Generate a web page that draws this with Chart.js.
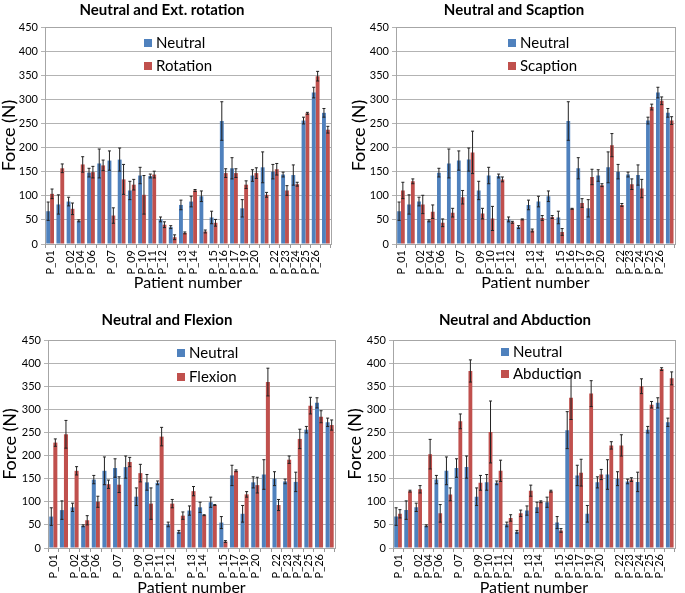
<!DOCTYPE html>
<html>
<head>
<meta charset="utf-8">
<script src="https://cdn.jsdelivr.net/npm/chart.js@4.4.0/dist/chart.umd.min.js"></script>
<style>
  body { margin: 0; width: 685px; height: 593px; overflow: hidden; background: #fff; position: relative; }
  canvas { position: absolute; }
</style>
</head>
<body>
<canvas id="tl" width="345" height="297" style="left:0;top:0"></canvas>
<canvas id="tr" width="340" height="297" style="left:345px;top:0"></canvas>
<canvas id="bl" width="345" height="305" style="left:0;top:297px"></canvas>
<canvas id="br" width="340" height="305" style="left:345px;top:297px"></canvas>
<script>
'use strict';

// patient slots (some slots have no label in the original figure)
let patients = ['P_01', '', 'P_02', 'P_04', 'P_06', '', 'P_07', '', 'P_09', 'P_10', 'P_11', 'P_12', '',
  'P_13', 'P_14', '', 'P_15', 'P_16', 'P_17', 'P_19', 'P_20', '', 'P_22', 'P_23', 'P_24', 'P_25', 'P_26', ''];
// flexion panel has no P_16
let patientsFlex = ['P_01', '', 'P_02', 'P_04', 'P_06', '', 'P_07', '', 'P_09', 'P_10', 'P_11', 'P_12', '',
  'P_13', 'P_14', '', 'P_15', 'P_17', 'P_19', 'P_20', '', 'P_22', 'P_23', 'P_24', 'P_25', 'P_26', ''];

let yTicks = [0, 50, 100, 150, 200, 250, 300, 350, 400, 450];

let neutral = [68, 82, 88, 48, 148, 167, 173, 175, 111, 142, 141, 51, 35, 81, 88, 99, 55, 255, 157, 74, 142, 159, 150, 144, 143, 256, 314, 272];
let neutralErr = [19, 20, 9, 2, 9, 30, 20, 24, 19, 17, 4, 5, 3, 10, 11, 11, 13, 40, 22, 18, 12, 32, 15, 5, 21, 7, 11, 9];

let neutralFlex = [68, 82, 88, 48, 148, 167, 173, 175, 111, 142, 141, 51, 35, 81, 88, 99, 55, 157, 74, 142, 159, 150, 144, 143, 256, 314, 272];
let neutralFlexErr = [19, 20, 9, 2, 9, 30, 20, 24, 19, 17, 4, 5, 3, 10, 11, 11, 13, 22, 18, 12, 32, 15, 5, 21, 7, 11, 9];

let rotation = [104, 157, 73, 165, 149, 163, 59, 134, 123, 102, 144, 40, 14, 23, 111, 26, 44, 147, 147, 123, 147, 102, 155, 111, 124, 271, 348, 237];
let rotationErr = [10, 9, 12, 16, 12, 11, 16, 31, 11, 40, 7, 6, 5, 2, 2, 3, 7, 9, 9, 8, 11, 5, 12, 10, 4, 2, 10, 7];

let scaption = [111, 130, 82, 67, 44, 65, 97, 190, 63, 53, 134, 45, 51, 28, 54, 56, 25, 73, 85, 139, 122, 205, 81, 124, 115, 284, 297, 256];
let scaptionErr = [17, 5, 19, 14, 8, 9, 14, 44, 11, 25, 5, 2, 1, 3, 5, 3, 7, 1, 9, 16, 3, 24, 3, 11, 19, 6, 8, 8];

let flexion = [228, 246, 167, 60, 100, 138, 137, 186, 162, 96, 241, 96, 70, 123, 71, 93, 14, 167, 116, 136, 359, 93, 191, 236, 308, 284, 266];
let flexionErr = [8, 30, 9, 10, 12, 9, 17, 10, 19, 34, 20, 9, 8, 10, 1, 1, 2, 2, 6, 17, 30, 12, 8, 21, 18, 13, 11];

let abduction = [74, 123, 127, 203, 75, 116, 274, 383, 141, 251, 167, 65, 75, 124, 100, 123, 38, 325, 163, 334, 159, 222, 222, 148, 350, 310, 387, 367];
let abductionErr = [9, 2, 8, 32, 19, 14, 16, 24, 16, 67, 23, 7, 7, 12, 2, 2, 4, 47, 29, 28, 11, 8, 23, 4, 16, 7, 3, 14];

const BLUE = '#4F81BD';
const RED = '#C0504D';
const FONT = 'Lato, "Open Sans", sans-serif';

// draws +/- error whiskers using the y scale
const errorBars = {
  id: 'errorBars',
  afterDatasetsDraw(chart) {
    const ctx = chart.ctx;
    const y = chart.scales.y;
    chart.data.datasets.forEach((ds, i) => {
      const meta = chart.getDatasetMeta(i);
      meta.data.forEach((bar, j) => {
        const v = ds.data[j];
        const e = ds.errors[j];
        const top = y.getPixelForValue(v + e);
        const bot = y.getPixelForValue(Math.max(0, v - e));
        ctx.save();
        ctx.strokeStyle = '#222';
        ctx.lineWidth = 1;
        ctx.beginPath();
        ctx.moveTo(bar.x, top);
        ctx.lineTo(bar.x, bot);
        ctx.moveTo(bar.x - 1.5, top);
        ctx.lineTo(bar.x + 1.5, top);
        ctx.moveTo(bar.x - 1.5, bot);
        ctx.lineTo(bar.x + 1.5, bot);
        ctx.stroke();
        ctx.restore();
      });
    });
  }
};

// title, in-plot legend and plot frame
const panelDecor = {
  id: 'panelDecor',
  afterDraw(chart, args, opts) {
    const ctx = chart.ctx;
    const a = chart.chartArea;
    ctx.save();
    ctx.strokeStyle = '#a6a6a6';
    ctx.lineWidth = 1;
    ctx.strokeRect(Math.round(a.left) + 0.5, Math.round(a.top) + 0.5, Math.round(a.right - a.left), Math.round(a.bottom - a.top));

    ctx.fillStyle = '#000';
    ctx.font = 'bold 15px ' + FONT;
    ctx.textAlign = 'center';
    ctx.textBaseline = 'middle';
    ctx.fillText(opts.title, opts.titleX, opts.titleY);

    ctx.font = '15px ' + FONT;
    ctx.textAlign = 'left';
    chart.data.datasets.forEach((ds, i) => {
      const ly = opts.legendY[i];
      ctx.fillStyle = ds.backgroundColor;
      ctx.fillRect(opts.legendX, ly - 4, 8, 8);
      ctx.fillStyle = '#000';
      ctx.fillText(ds.label, opts.legendX + 12, ly);
    });
    ctx.restore();
  }
};

function makePanel(id, geom, title, labels, base, baseErr, otherName, other, otherErr) {
  const canvas = document.getElementById(id);
  const H = canvas.height;
  const W = canvas.width;
  return new Chart(canvas, {
    type: 'bar',
    data: {
      labels: labels,
      datasets: [
        { label: 'Neutral', data: base, errors: baseErr, backgroundColor: BLUE },
        { label: otherName, data: other, errors: otherErr, backgroundColor: RED }
      ]
    },
    options: {
      responsive: false,
      animation: false,
      devicePixelRatio: 1,
      layout: { padding: { left: geom.padLeft, right: W - geom.right, top: geom.top, bottom: 0 } },
      datasets: { bar: { categoryPercentage: 0.76, barPercentage: 1.0 } },
      plugins: {
        legend: { display: false },
        title: { display: false },
        tooltip: { enabled: false },
        panelDecor: { title: title, titleX: geom.titleX, titleY: geom.titleY, legendX: geom.legendX, legendY: geom.legendY }
      },
      scales: {
        x: {
          grid: { display: true, drawOnChartArea: false, drawTicks: true, tickLength: 4, color: '#999', offset: true },
          border: { display: true, color: '#999' },
          ticks: { autoSkip: false, maxRotation: 90, minRotation: 90, padding: 2, color: '#000', font: { family: FONT, size: 11 } },
          title: { display: true, text: 'Patient number', color: '#000', font: { family: FONT, size: 16 }, padding: { top: 0, bottom: 5 } },
          afterFit: (s) => { s.height = H - geom.bottom; }
        },
        y: {
          min: 0,
          max: 450,
          afterBuildTicks: (s) => { s.ticks = yTicks.map(v => ({ value: v })); },
          grid: { color: '#b3b3b3', tickLength: 4 },
          border: { display: true, color: '#999' },
          ticks: { padding: 3, color: '#000', font: { family: FONT, size: 11 } },
          title: { display: true, text: 'Force (N)', color: '#000', font: { family: FONT, size: 18, lineHeight: 1.0 }, padding: 0 },
          afterFit: (s) => { s.width = geom.left - geom.padLeft; }
        }
      }
    },
    plugins: [errorBars, panelDecor]
  });
}

makePanel('tl', { padLeft: 0, left: 45, right: 331, top: 27, bottom: 244, titleX: 162, titleY: 10, legendX: 144, legendY: [43, 66] },
  'Neutral and Ext. rotation', patients, neutral, neutralErr, 'Rotation', rotation, rotationErr);
makePanel('tr', { padLeft: 5, left: 51, right: 337, top: 27, bottom: 244, titleX: 169, titleY: 10, legendX: 163, legendY: [43, 66] },
  'Neutral and Scaption', patients, neutral, neutralErr, 'Scaption', scaption, scaptionErr);
makePanel('bl', { padLeft: 1, left: 48, right: 337, top: 43, bottom: 251, titleX: 167, titleY: 23, legendX: 177, legendY: [56, 80] },
  'Neutral and Flexion', patientsFlex, neutralFlex, neutralFlexErr, 'Flexion', flexion, flexionErr);
makePanel('br', { padLeft: 1, left: 48, right: 338, top: 43, bottom: 251, titleX: 170, titleY: 23, legendX: 156, legendY: [55, 77] },
  'Neutral and Abduction', patients, neutral, neutralErr, 'Abduction', abduction, abductionErr);
</script>
</body>
</html>
